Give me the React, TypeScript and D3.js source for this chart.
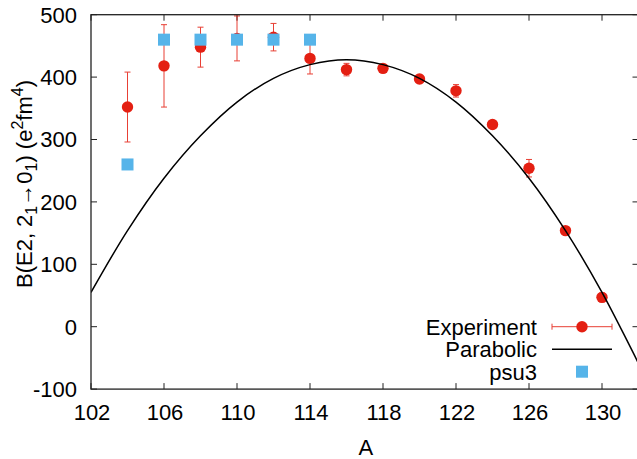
import React from "react";
import * as d3 from "d3";

const expA = [104, 106, 108, 110, 112, 114, 116, 118, 120, 122, 124, 126, 128, 130];
const expB = [352, 418, 448, 462, 464, 430, 412, 414, 397, 378, 324, 254, 154, 47];
const expErr = [56, 66, 32, 36, 22, 25, 10, 6, 6, 10, 6, 14, 5, 7];

const psuA = [104, 106, 108, 110, 112, 114];
const psuB = [260, 460, 460, 460, 460, 460];

const parA = [102, 104, 106, 108, 110, 112, 114, 116, 118, 120, 122, 124, 126, 128, 130, 132];
const parB = [55, 154, 238, 306, 360, 398, 420, 428, 420, 398, 360, 306, 238, 154, 55, -59];

const xTicks = [102, 106, 110, 114, 118, 122, 126, 130];
const yTicks = [-100, 0, 100, 200, 300, 400, 500];

const W = 637;
const H = 459;
const FONT = "'Liberation Sans', Arial, Helvetica, sans-serif";
const RED = "#e41f12";
const BLUE = "#56b4e9";

export default function App() {
  const x = d3.scaleLinear().domain([102, 132]).range([91, 638.5]);
  const y = d3.scaleLinear().domain([-100, 500]).range([389.1, 14.7]);
  const left = x(102), right = x(132), top = y(500), bottom = y(-100);
  const line = d3
    .line<number>()
    .x((_, i) => x(parA[i]))
    .y((d) => y(d))
    .curve(d3.curveCatmullRom.alpha(0.5));
  const fs = 22;
  const tick = 6;
  const cap = 3;
  const r = 5.7;
  const sq = 12;
  const legX = 537;
  const legRows = [326.7, 349.3, 371.7];
  const sampleL = 552, sampleR = 612, sampleC = 582;

  return (
    <svg
      width={W}
      height={H}
      style={{ position: "absolute", left: 0, top: 0, background: "#fff" }}
      fontFamily={FONT}
    >
      <defs>
        <clipPath id="plot">
          <rect x={left} y={top} width={right - left} height={bottom - top} />
        </clipPath>
      </defs>
      <rect x={0} y={0} width={W} height={H} fill="#fff" />

      {/* ticks */}
      <g stroke="#222" strokeWidth={1}>
        {xTicks.map((t) => (
          <g key={"xt" + t}>
            <line x1={x(t)} x2={x(t)} y1={bottom} y2={bottom - tick} />
            <line x1={x(t)} x2={x(t)} y1={top} y2={top + tick} />
          </g>
        ))}
        {yTicks.map((t) => (
          <g key={"yt" + t}>
            <line x1={left} x2={left + tick} y1={y(t)} y2={y(t)} />
            <line x1={right} x2={right - tick} y1={y(t)} y2={y(t)} />
          </g>
        ))}
      </g>

      {/* tick labels */}
      <g fontSize={fs} fill="#000">
        {xTicks.map((t) => (
          <text key={"xl" + t} x={x(t) + 1} y={420} textAnchor="middle">
            {t}
          </text>
        ))}
        {yTicks.map((t) => (
          <text key={"yl" + t} x={77} y={y(t)} dy="0.36em" textAnchor="end">
            {t}
          </text>
        ))}
      </g>

      {/* axis titles */}
      <text x={(left + right) / 2 + 1} y={455} fontSize={fs} textAnchor="middle">
        A
      </text>
      <text
        transform={`translate(32, 184) rotate(-90)`}
        fontSize={fs}
        textAnchor="middle"
      >
        B(E2, 2<tspan fontSize={16} dy={5}>1</tspan>
        <tspan dy={-5}>→0</tspan>
        <tspan fontSize={16} dy={5}>1</tspan>
        <tspan dy={-5}>) (e</tspan>
        <tspan fontSize={16} dy={-9}>2</tspan>
        <tspan dy={9}>fm</tspan>
        <tspan fontSize={16} dy={-9}>4</tspan>
        <tspan dy={9}>)</tspan>
      </text>

      <g clipPath="url(#plot)">
        {/* error bars */}
        <g stroke={RED} strokeWidth={1} opacity={0.85}>
          {expA.map((a, i) => (
            <g key={"eb" + a}>
              <line x1={x(a)} x2={x(a)} y1={y(expB[i] - expErr[i])} y2={y(expB[i] + expErr[i])} />
              <line x1={x(a) - cap} x2={x(a) + cap} y1={y(expB[i] - expErr[i])} y2={y(expB[i] - expErr[i])} />
              <line x1={x(a) - cap} x2={x(a) + cap} y1={y(expB[i] + expErr[i])} y2={y(expB[i] + expErr[i])} />
            </g>
          ))}
        </g>
        {expA.map((a, i) => (
          <circle key={"c" + a} cx={x(a)} cy={y(expB[i])} r={r} fill={RED} />
        ))}
        <path d={line(parB) || ""} fill="none" stroke="#000" strokeWidth={1.5} />
        {psuA.map((a, i) => (
          <rect key={"s" + a} x={x(a) - sq / 2} y={y(psuB[i]) - sq / 2} width={sq} height={sq} fill={BLUE} />
        ))}
      </g>

      {/* legend */}
      <g fontSize={fs}>
        <text x={legX} y={legRows[0]} dy="0.36em" textAnchor="end">Experiment</text>
        <text x={legX} y={legRows[1]} dy="0.36em" textAnchor="end">Parabolic</text>
        <text x={legX} y={legRows[2]} dy="0.36em" textAnchor="end">psu3</text>
        <g stroke={RED} strokeWidth={1} opacity={0.85}>
          <line x1={sampleL} x2={sampleR} y1={legRows[0]} y2={legRows[0]} />
          <line x1={sampleL} x2={sampleL} y1={legRows[0] - cap} y2={legRows[0] + cap} />
          <line x1={sampleR} x2={sampleR} y1={legRows[0] - cap} y2={legRows[0] + cap} />
        </g>
        <circle cx={sampleC} cy={legRows[0]} r={r} fill={RED} />
        <line x1={sampleL} x2={sampleR} y1={legRows[1]} y2={legRows[1]} stroke="#000" strokeWidth={1.5} />
        <rect x={sampleC - sq / 2} y={legRows[2] - sq / 2} width={sq} height={sq} fill={BLUE} />
      </g>

      {/* frame */}
      <rect x={left} y={top} width={right - left} height={bottom - top} fill="none" stroke="#222" strokeWidth={1.3} />
    </svg>
  );
}
